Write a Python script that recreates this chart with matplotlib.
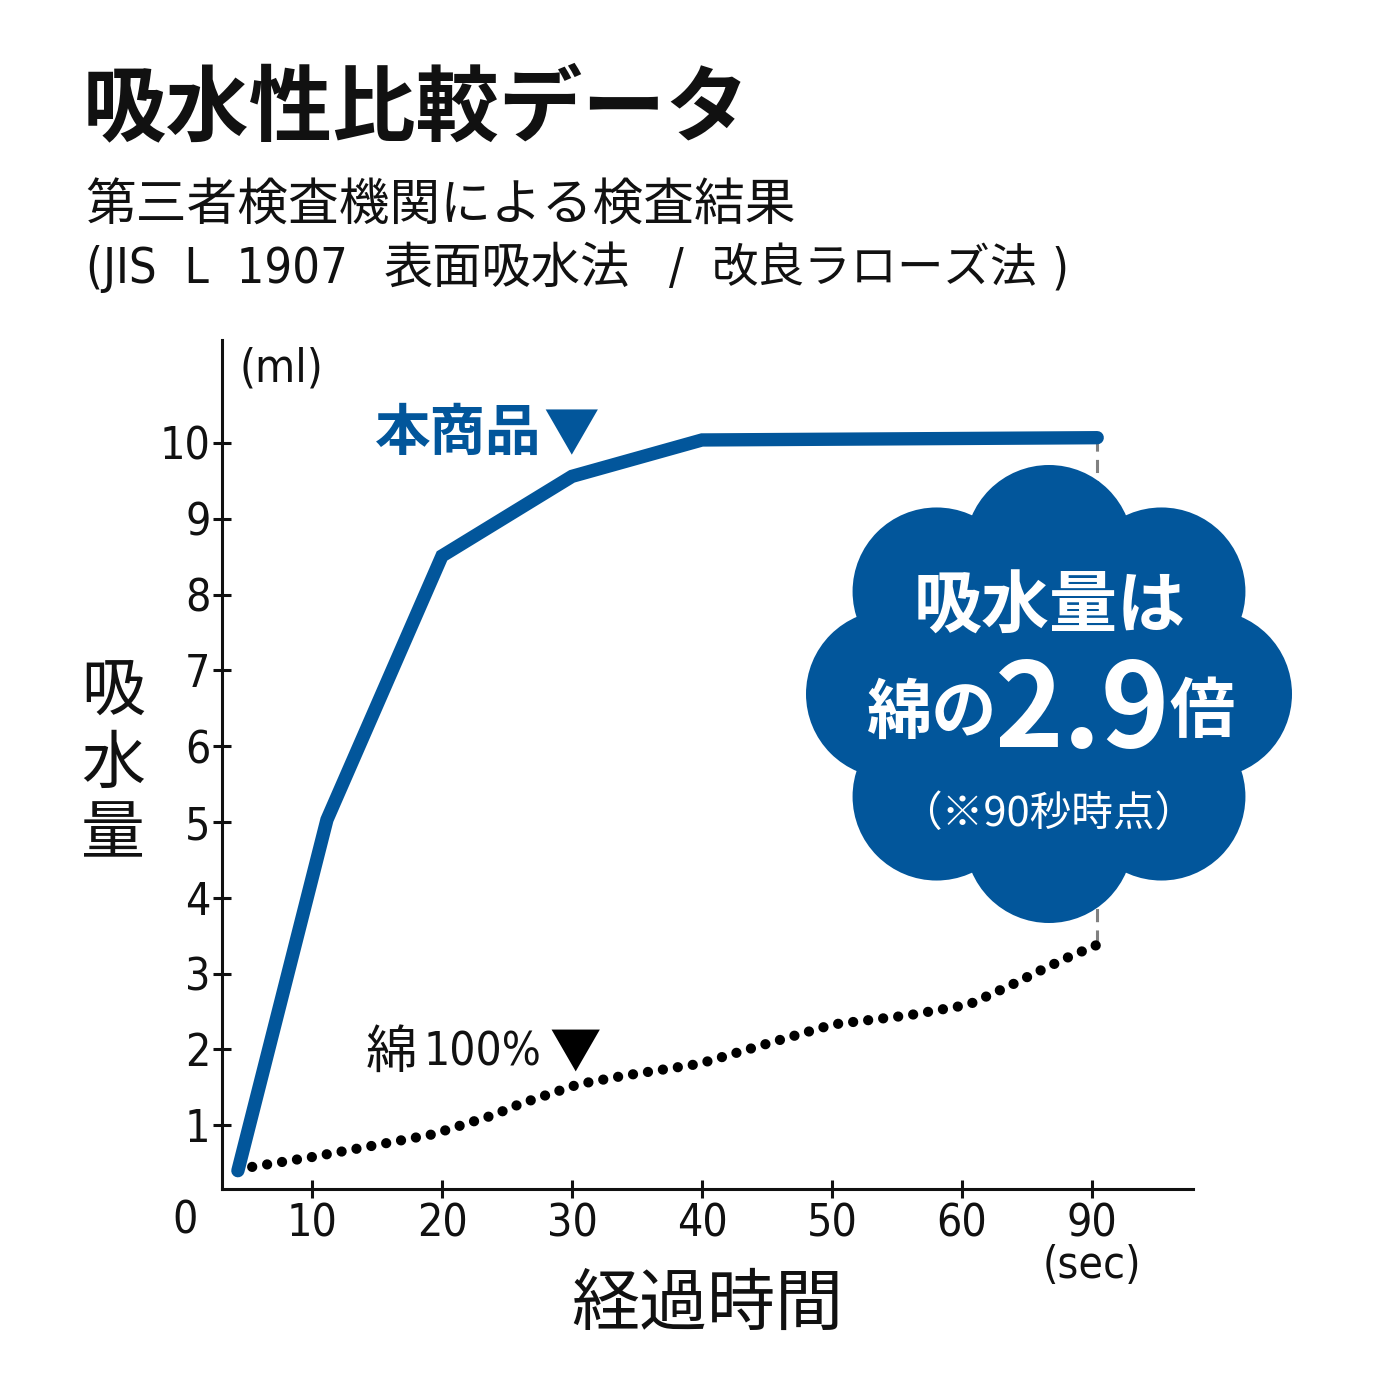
import matplotlib
matplotlib.use('Agg')
import matplotlib.pyplot as plt
from matplotlib import font_manager as fm
from matplotlib.patches import Circle, Ellipse
import math

# ---------------- data ----------------
x_tick_pos = [1, 2, 3, 4, 5, 6, 7]
x_tick_labels = ['10', '20', '30', '40', '50', '60', '90']
y_ticks = [1, 2, 3, 4, 5, 6, 7, 8, 9, 10]

# product (本商品) absorption, x in tick-index units
product_x = [0.43, 1.115, 2.0, 3.0, 4.0, 7.04]
product_y = [0.40, 5.03, 8.51, 9.56, 10.04, 10.07]

# cotton 100% absorption
cotton_x = [0.54, 1.0, 1.47, 1.93, 2.39, 2.6, 3.05, 3.39, 3.98, 4.55, 5.01,
            5.59, 6.05, 6.38, 6.59, 6.81, 7.04]
cotton_y = [0.45, 0.58, 0.73, 0.88, 1.13, 1.28, 1.54, 1.65, 1.81, 2.10, 2.33,
            2.45, 2.59, 2.85, 3.03, 3.21, 3.38]

BLUE = '#02569b'
INK = '#111111'

names = {f.name for f in fm.fontManager.ttflist}
CJK = 'Noto Sans CJK JP'
if 'Liberation Sans Narrow' in names:
    NARROW = dict(family=['Liberation Sans Narrow', 'DejaVu Sans'])
else:
    NARROW = dict(family=['DejaVu Sans'], stretch='condensed')

W = H = 1390
fig = plt.figure(figsize=(13.9, 13.9), dpi=100)
fig.patch.set_facecolor('white')

def fx(px):
    return px / W

def fy(py):
    return 1 - py / H

# main axes placed so that tick index i -> 182+130*i px, value v -> 443+(10-v)*75.8 px
ax = fig.add_axes([fx(222), fy(1189), (1193 - 222) / W, (1189 - 340) / H])
ax.set_xlim((222 - 182) / 130, (1193 - 182) / 130)
ax.set_ylim(10 - (1189 - 443) / 75.8, 10 + (443 - 340) / 75.8)
for s in ['top', 'right']:
    ax.spines[s].set_visible(False)
for s in ['left', 'bottom']:
    ax.spines[s].set_linewidth(2.2)
    ax.spines[s].set_color(INK)
ax.set_xticks(x_tick_pos, x_tick_labels)
ax.set_yticks(y_ticks, [str(v) for v in y_ticks])
ax.tick_params(axis='both', direction='inout', length=13.5, width=2.2, color=INK,
               labelcolor=INK)
ax.tick_params(axis='y', pad=1.5)
ax.tick_params(axis='x', pad=3)
for lab in ax.get_xticklabels() + ax.get_yticklabels():
    lab.set_fontsize(32)
    lab.set_family(NARROW['family'])
    if 'stretch' in NARROW:
        lab.set_stretch(NARROW['stretch'])

# lines
ax.plot(product_x, product_y, color=BLUE, lw=9.6, solid_capstyle='round',
        solid_joinstyle='miter', clip_on=False, zorder=4)
ax.plot(cotton_x, cotton_y, color='black', lw=7.4, linestyle=(0, (0.001, 1.47)),
        dash_capstyle='round', clip_on=False, zorder=4)
ax.plot([product_x[-1], cotton_x[-1]], [product_y[-1], cotton_y[-1]],
        color='#808080', lw=2.2, linestyle=(0, (4.3, 2.7)), zorder=2, clip_on=False)

# overlay in pixel coordinates
ov = fig.add_axes([0, 0, 1, 1], zorder=5)
ov.set_xlim(0, W)
ov.set_ylim(H, 0)
ov.axis('off')
ov.patch.set_alpha(0)

# cloud
cx, cy = 1049, 694
for k in range(8):
    th = math.radians(45 * k)
    ov.add_patch(Circle((cx + 159 * math.sin(th), cy - 145 * math.cos(th)), 84,
                        color=BLUE, lw=0))
ov.add_patch(Ellipse((cx, cy), 340, 320, color=BLUE, lw=0))

def t(x, y, s, size, ha='center', va='center', color=INK, weight='normal', fam=None, **kw):
    props = dict(fontsize=size, ha=ha, va=va, color=color, weight=weight)
    if fam is None:
        props['family'] = [CJK, 'DejaVu Sans']
    elif fam == 'narrow':
        props['family'] = NARROW['family']
        if 'stretch' in NARROW:
            props['stretch'] = NARROW['stretch']
    else:
        props['family'] = fam
    props.update(kw)
    return ov.text(x, y, s, **props)

# title & subtitles
t(83, 110, '吸水性比較データ', 60, ha='left', weight='bold')
t(85, 207, '第三者検査機関による検査結果', 36.5, ha='left')
t(86, 269, '(JIS  L  1907', 35, ha='left', fam='narrow')
t(384, 269, '表面吸水法', 35.5, ha='left')
t(676, 269, '/', 35, fam='narrow')
t(712, 269, '改良ラローズ法', 33.5, ha='left')
t(1060, 269, ')', 35, fam='narrow')

# axis labels
t(281, 369, '(ml)', 33, fam='narrow')
t(185, 1221, '0', 32, fam='narrow')
t(1092, 1265, '(sec)', 32, fam='narrow')
t(707, 1306, '経過時間', 49)
for ch, yy in zip('吸水量', [691, 765, 835]):
    t(113, yy, ch, 46)

# series labels
t(375, 434, '本商品', 40, ha='left', color=BLUE, weight='bold')
t(571, 436, '▼', 40, color=BLUE)
t(366, 1053, '綿', 37, ha='left')
t(424, 1053, '100%', 33, ha='left', fam='narrow')
t(575, 1053, '▼', 37, color='black')

# cloud texts
W_ = 'white'
t(1050, 608, '吸水量は', 49, color=W_, weight='bold')
t(932, 713, '綿の', 47, color=W_, weight='bold')
t(1083, 747, '2.9', 84, color=W_, weight='bold', va='baseline')
t(1202, 713, '倍', 47, color=W_, weight='bold')
t(1048, 814, '（※90秒時点）', 30, color=W_)

fig.savefig('out.png', dpi=100, facecolor='white')
